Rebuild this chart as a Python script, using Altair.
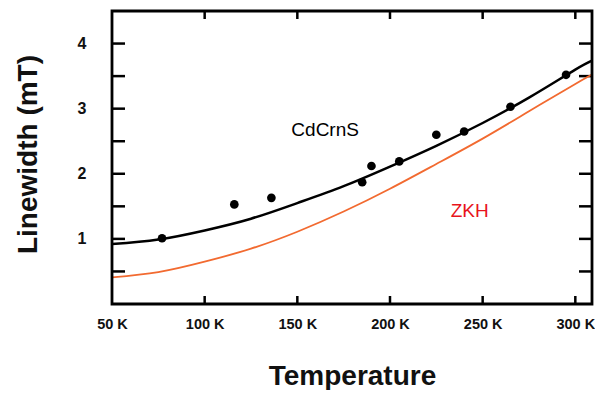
import altair as alt
import pandas as pd

# measured points (Temperature in K, linewidth in mT)
temp_pts = [77, 116, 136, 185, 190, 205, 225, 240, 265, 295]
width_pts = [1.01, 1.53, 1.63, 1.87, 2.12, 2.19, 2.60, 2.65, 3.03, 3.52]

# curves
curve_T = [50, 75, 100, 125, 150, 175, 200, 225, 250, 275, 300, 310]
fit_cdcrns = [0.92, 0.99, 1.13, 1.31, 1.55, 1.81, 2.11, 2.43, 2.78, 3.17, 3.60, 3.75]
fit_zkh = [0.41, 0.49, 0.65, 0.85, 1.11, 1.42, 1.77, 2.15, 2.54, 2.96, 3.38, 3.54]

# annotations
label_text = ["CdCrnS", "ZKH"]
label_T = [165, 243]
label_w = [2.68, 1.43]
label_color = ["#000000", "#e8141c"]

# ticks
x_tick_vals = [100, 150, 200, 250, 300]
y_tick_vals = [0.5, 1.0, 1.5, 2.0, 2.5, 3.0, 3.5, 4.0]
x_label_vals = [50, 100, 150, 200, 250, 300]
y_label_vals = [1, 2, 3, 4]

W, H = 480, 293
FONT = "Liberation Sans"

pts = pd.DataFrame({"T": temp_pts, "w": width_pts})
curves = pd.DataFrame({
    "T": curve_T * 2,
    "w": fit_cdcrns + fit_zkh,
    "series": ["CdCrnS"] * len(curve_T) + ["ZKH"] * len(curve_T),
})
labels = pd.DataFrame({"text": label_text, "T": label_T, "w": label_w, "c": label_color})
xt = pd.DataFrame({"T": x_tick_vals})
yt = pd.DataFrame({"w": y_tick_vals})

xscale = alt.Scale(domain=[50, 309], nice=False, zero=False)
yscale = alt.Scale(domain=[0, 4.5], nice=False, zero=False)

xaxis = alt.Axis(
    values=x_label_vals, labelExpr="datum.value + ' K'", grid=False, domain=False,
    ticks=False, tickSize=0, labelPadding=13, labelFont=FONT, labelFontSize=14.5,
    labelFontWeight="bold", labelColor="#111111", title="Temperature",
    titleFont=FONT, titleFontSize=28, titleFontWeight="bold", titleColor="#111111",
    titleX=240, titleY=72, titleBaseline="middle", titleAlign="center",
    labelFlush=False, labelOverlap=False,
)
yaxis = alt.Axis(
    values=y_label_vals, format="d", grid=False, domain=False, ticks=False, tickSize=0,
    labelPadding=26, labelFont=FONT, labelFontSize=16, labelFontWeight="bold",
    labelColor="#111111", title="Linewidth (mT)", titleFont=FONT, titleFontSize=28,
    titleFontWeight="bold", titleColor="#111111", titleX=-84, titleY=143,
    titleBaseline="middle", titleAlign="center", titleAngle=-90,
)

line = alt.Chart(curves).mark_line(interpolate="natural", clip=True).encode(
    x=alt.X("T:Q", scale=xscale, axis=xaxis),
    y=alt.Y("w:Q", scale=yscale, axis=yaxis),
    color=alt.Color("series:N", scale=alt.Scale(domain=["CdCrnS", "ZKH"], range=["#000000", "#f26a30"]), legend=None),
    strokeWidth=alt.StrokeWidth("series:N", scale=alt.Scale(domain=["CdCrnS", "ZKH"], range=[2.5, 1.8]), legend=None),
)

points = alt.Chart(pts).mark_circle(size=75, color="#000000", opacity=1).encode(
    x=alt.X("T:Q", scale=xscale), y=alt.Y("w:Q", scale=yscale)
)

text = alt.Chart(labels).mark_text(font=FONT, fontSize=19, align="center", baseline="middle").encode(
    x=alt.X("T:Q", scale=xscale), y=alt.Y("w:Q", scale=yscale),
    text="text:N", color=alt.Color("c:N", scale=None),
)

tick_style = dict(color="#000000", strokeWidth=2.5)
left_ticks = alt.Chart(yt).mark_rule(**tick_style).encode(
    y=alt.Y("w:Q", scale=yscale), x=alt.value(0), x2=alt.value(13))
right_ticks = alt.Chart(yt).mark_rule(**tick_style).encode(
    y=alt.Y("w:Q", scale=yscale), x=alt.value(W - 13), x2=alt.value(W))
top_ticks = alt.Chart(xt).mark_rule(**tick_style).encode(
    x=alt.X("T:Q", scale=xscale), y=alt.value(0), y2=alt.value(8))
bottom_ticks = alt.Chart(xt).mark_rule(**tick_style).encode(
    x=alt.X("T:Q", scale=xscale), y=alt.value(H - 8), y2=alt.value(H))

frame = alt.Chart(pd.DataFrame({"k": [0]})).mark_rect(
    fill=None, stroke="#000000", strokeWidth=2.8
).encode(x=alt.value(0), x2=alt.value(W), y=alt.value(0), y2=alt.value(H))

chart = alt.layer(
    left_ticks, right_ticks, top_ticks, bottom_ticks, line, points, text, frame
).properties(
    width=W, height=H,
    autosize=alt.AutoSizeParams(type="none"),
    padding={"left": 104, "top": 3, "right": 3, "bottom": 86},
).configure_view(
    strokeWidth=0
).configure(background="white")

chart.save("out.html", embed_options={"renderer": "svg", "actions": False})
